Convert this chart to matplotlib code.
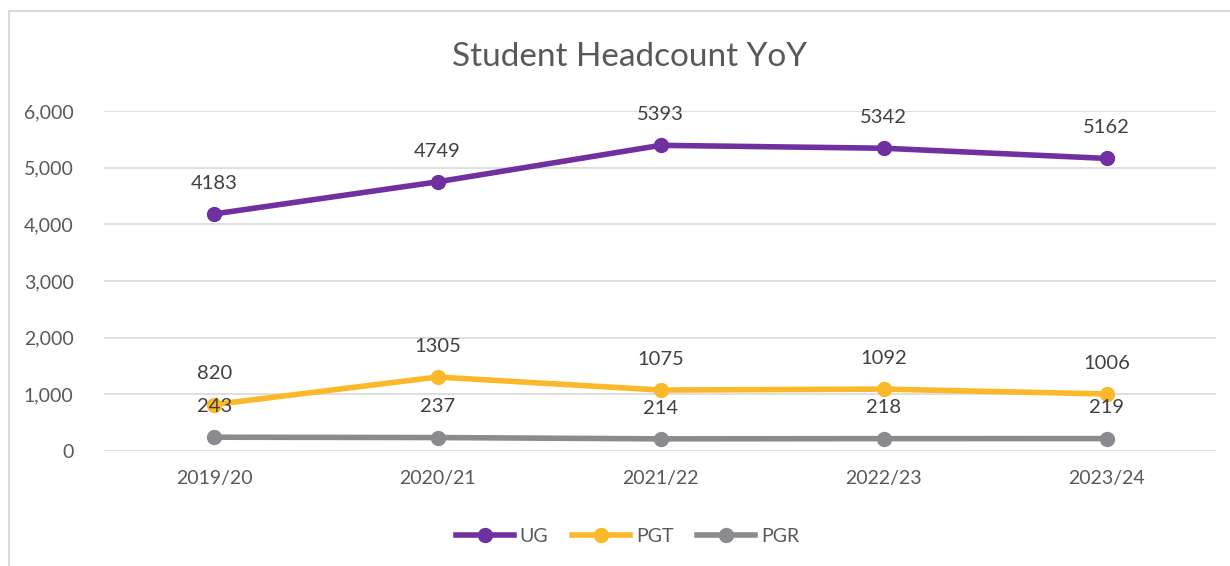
import matplotlib.pyplot as plt
from matplotlib.lines import Line2D

years = ["2019/20", "2020/21", "2021/22", "2022/23", "2023/24"]
ug = [4183, 4749, 5393, 5342, 5162]
pgt = [820, 1305, 1075, 1092, 1006]
pgr = [243, 237, 214, 218, 219]

series = [("UG", ug, "#7030A0"), ("PGT", pgt, "#FBB829"), ("PGR", pgr, "#898B8E")]
txt = "#595959"

plt.rcParams["font.family"] = ["Lato", "DejaVu Sans"]

fig = plt.figure(figsize=(12.3, 5.66), dpi=100)
ax = fig.add_axes([0.0846, 0.2032, 0.9040, 0.6008])

x = list(range(len(years)))
for name, vals, col in series:
    ax.plot(x, vals, color=col, lw=4, marker="o", ms=10, label=name, solid_capstyle="round")
    for xi, v in zip(x, vals):
        ax.annotate(str(v), (xi, v), xytext=(0, 16), textcoords="offset points",
                    ha="center", va="bottom", fontsize=14.5, color="#404040")

ax.set_xlim(-0.495, 4.49)
ax.set_ylim(0, 6000)
ax.set_yticks(range(0, 6001, 1000))
ax.set_yticklabels([f"{v:,}" for v in range(0, 6001, 1000)])
ax.set_xticks(x)
ax.set_xticklabels(years)
ax.tick_params(length=0, labelsize=14, colors=txt, pad=14)
ax.tick_params(axis="y", pad=22)
ax.grid(axis="y", color="#D9D9D9", lw=1.2)
ax.set_axisbelow(True)
for s in ax.spines.values():
    s.set_visible(False)

fig.text(0.512, 1 - 57 / 566, "Student Headcount YoY", ha="center", va="center",
         fontsize=24, color=txt)

handles = [Line2D([0], [0], color=c, lw=4, marker="o", ms=10) for _, _, c in series]
fig.legend(handles, [n for n, _, _ in series], loc="center", bbox_to_anchor=(0.51, 0.053),
           ncol=3, frameon=False, fontsize=14, labelcolor=txt, handlelength=3,
           columnspacing=1.2, handletextpad=0.3)

fig.add_artist(Line2D([9 / 1230, 9 / 1230], [0, 1 - 11 / 566], color="#D9D9D9", lw=1.5))
fig.add_artist(Line2D([9 / 1230, 1], [1 - 11 / 566, 1 - 11 / 566], color="#D9D9D9", lw=1.5))

fig.savefig("out.png", dpi=100)
